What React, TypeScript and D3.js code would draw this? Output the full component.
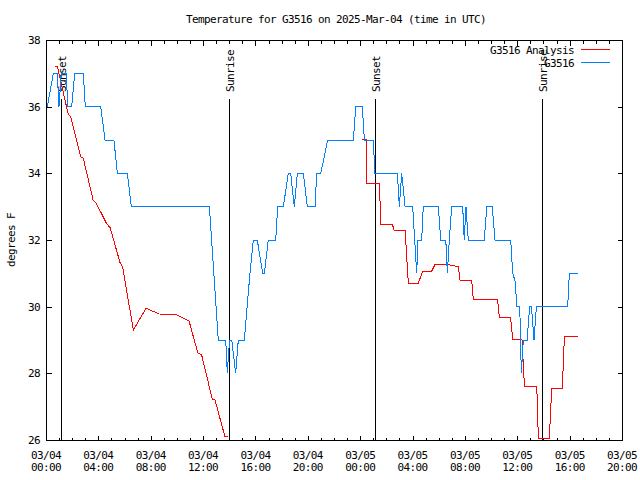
import React, { useEffect, useRef } from "react";
import * as d3 from "d3";

// ---- data (hours since 2025-03-04 00:00 UTC) ----
const obsHours = [
  0.10, 0.56, 0.86, 0.99, 1.17, 1.53, 1.68, 1.96, 2.19, 2.85,
  3.00, 4.18, 4.51, 5.19, 5.45, 6.21, 6.52, 12.48, 13.16, 13.73,
  13.85, 13.96, 14.06, 14.19, 14.49, 14.69, 15.15, 15.58, 15.84, 16.14,
  16.55, 16.68, 16.98, 17.55, 17.70, 18.13, 18.51, 18.69, 18.97, 19.20,
  19.66, 19.96, 20.55, 20.68, 20.99, 21.52, 23.48, 23.66, 24.16, 24.32,
  25.00, 25.13, 26.84, 26.99, 27.17, 27.43, 28.01, 28.32, 28.40, 28.70,
  28.82, 29.97, 30.15, 30.54, 30.66, 30.81, 30.99, 31.83, 31.95, 32.08,
  32.26, 33.48, 33.67, 34.09, 34.30, 35.50, 35.65, 35.85, 35.96, 36.19,
  36.31, 36.46, 36.75, 36.95, 37.08, 37.28, 37.46, 39.85, 39.98, 40.62,
];
const obsTemps = [
  36, 37, 37, 36, 37, 37, 36, 36, 37, 37,
  36, 36, 35, 35, 34, 34, 33, 33, 29, 29,
  28, 28.7, 29, 29, 28, 29, 29, 31, 32, 32,
  31, 31, 32, 32, 33, 33, 34, 34, 33, 34,
  34, 33, 33, 34, 34, 35, 35, 36, 36, 35,
  35, 34, 34, 33, 34, 33, 33, 31, 32, 32,
  33, 33, 32, 32, 31, 32, 33, 33, 32, 33,
  32, 32, 33, 33, 32, 32, 31, 30.75, 30, 30,
  28, 29, 29, 30, 30, 29, 30, 30, 31, 31,
];

const anaHours = [
  0.71, 0.86, 1.70, 1.89, 2.65, 2.85, 3.61, 3.82, 4.64, 4.89,
  5.65, 5.86, 6.67, 7.64, 8.66, 9.98, 10.49, 10.92, 11.59, 11.89,
  12.70, 12.91, 13.67, 13.88, 19.0,
  24.16, 24.45, 24.52, 25.46, 25.59, 26.46, 26.59, 27.43, 27.68, 28.44,
  28.78, 29.47, 29.72, 30.61, 31.50, 31.63, 32.52, 32.64, 34.49, 34.63,
  35.49, 35.65, 36.36, 36.55, 37.49, 37.61, 38.45, 38.63, 39.44, 39.60,
  40.62,
];
const anaTemps = [
  37.22, 37.22, 35.77, 35.70, 34.50, 34.45, 33.18, 33.12, 32.48, 32.38,
  31.33, 31.18, 29.30, 29.95, 29.78, 29.75, 29.65, 29.58, 28.62, 28.55,
  27.23, 27.20, 26.10, 26.09, NaN,
  35.02, 35.02, 33.70, 33.70, 32.47, 32.47, 32.30, 32.30, 30.70, 30.70,
  31.07, 31.07, 31.27, 31.27, 31.20, 30.78, 30.78, 30.22, 30.22, 29.68,
  29.68, 29.02, 29.02, 27.61, 27.61, 26.05, 26.05, 27.55, 27.55, 29.10,
  29.10,
];

const sunLabels = ["Sunset", "Sunrise", "Sunset", "Sunrise"];
const sunHours = [1.15, 13.99, 25.17, 37.92];

const xTickHours = [0, 4, 8, 12, 16, 20, 24, 28, 32, 36, 40, 44];
const xTickDates = ["03/04", "03/04", "03/04", "03/04", "03/04", "03/04", "03/05", "03/05", "03/05", "03/05", "03/05", "03/05"];
const xTickTimes = ["00:00", "04:00", "08:00", "12:00", "16:00", "20:00", "00:00", "04:00", "08:00", "12:00", "16:00", "20:00"];
const yTicks = [26, 28, 30, 32, 34, 36, 38];

const seriesNames = ["G3516 Analysis", "G3516"];
const seriesColors = ["#ff0000", "#0080ff"];

const titleText = "Temperature for G3516 on 2025-Mar-04 (time in UTC)";
const yLabel = "degrees F";

const W = 640;
const H = 480;
const L = 46, R = 622, T = 40, B = 440;
const FONT = "'DejaVu Sans Mono', 'Liberation Mono', monospace";

export default function App() {
  const ref = useRef<SVGSVGElement | null>(null);

  useEffect(() => {
    const svg = d3.select(ref.current);
    svg.selectAll("*").remove();

    const x = d3.scaleLinear().domain([0, 44]).range([L, R]);
    const y = d3.scaleLinear().domain([26, 38]).range([B, T]);

    svg.append("rect").attr("width", W).attr("height", H).attr("fill", "#fff");

    const defs = svg.append("defs");
    defs.append("clipPath").attr("id", "plotclip")
      .append("rect").attr("x", L).attr("y", T).attr("width", R - L + 1).attr("height", B - T + 1);

    const g = svg.append("g").attr("font-family", FONT).attr("font-size", 11)
      .attr("letter-spacing", -0.62).attr("fill", "#000");

    // title
    g.append("text").attr("x", 336).attr("y", 23).attr("text-anchor", "middle").text(titleText);

    // y label
    g.append("text").attr("transform", "translate(15,240) rotate(-90)").attr("text-anchor", "middle").text(yLabel);

    // axes frame
    g.append("rect").attr("x", L + 0.5).attr("y", T + 0.5).attr("width", R - L).attr("height", B - T)
      .attr("fill", "none").attr("stroke", "#000").attr("stroke-width", 1).attr("shape-rendering", "crispEdges");

    // x ticks (minor every hour, major every 4)
    const hrs = d3.range(0, 45, 1);
    hrs.forEach((h) => {
      const len = h % 4 === 0 ? 5 : 3;
      const xp = Math.round(x(h)) + 0.5;
      g.append("line").attr("x1", xp).attr("x2", xp).attr("y1", B + 0.5).attr("y2", B + 0.5 - len)
        .attr("stroke", "#000").attr("shape-rendering", "crispEdges");
      g.append("line").attr("x1", xp).attr("x2", xp).attr("y1", T + 0.5).attr("y2", T + 0.5 + len)
        .attr("stroke", "#000").attr("shape-rendering", "crispEdges");
    });
    xTickHours.forEach((h, i) => {
      g.append("text").attr("x", x(h)).attr("y", 458.5).attr("text-anchor", "middle").text(xTickDates[i]);
      g.append("text").attr("x", x(h)).attr("y", 471).attr("text-anchor", "middle").text(xTickTimes[i]);
    });

    // y ticks
    yTicks.forEach((v) => {
      const yp = Math.round(y(v)) + 0.5;
      g.append("line").attr("x1", L + 0.5).attr("x2", L + 5.5).attr("y1", yp).attr("y2", yp)
        .attr("stroke", "#000").attr("shape-rendering", "crispEdges");
      g.append("line").attr("x1", R + 0.5).attr("x2", R - 4.5).attr("y1", yp).attr("y2", yp)
        .attr("stroke", "#000").attr("shape-rendering", "crispEdges");
      g.append("text").attr("x", 40).attr("y", y(v) + 4).attr("text-anchor", "end").text(String(v));
    });

    // sunrise / sunset lines
    sunHours.forEach((h, i) => {
      const xp = Math.floor(x(h)) + 0.5;
      g.append("line").attr("x1", xp).attr("x2", xp).attr("y1", 99).attr("y2", B)
        .attr("stroke", "#000").attr("shape-rendering", "crispEdges");
      g.append("text").attr("transform", `translate(${xp + 4},92) rotate(-90)`).attr("text-anchor", "start").text(sunLabels[i]);
    });

    // data lines
    const plot = svg.append("g").attr("clip-path", "url(#plotclip)");
    const mk = (hs: number[], vs: number[]) => hs.map((h, i) => ({ h, v: vs[i] }));
    const line = d3.line<{ h: number; v: number }>()
      .defined((d) => !isNaN(d.v))
      .x((d) => x(d.h))
      .y((d) => y(d.v));

    plot.append("path").datum(mk(anaHours, anaTemps)).attr("d", line).attr("fill", "none")
      .attr("stroke", seriesColors[0]).attr("stroke-width", 1).attr("shape-rendering", "crispEdges");
    plot.append("path").datum(mk(obsHours, obsTemps)).attr("d", line).attr("fill", "none")
      .attr("stroke", seriesColors[1]).attr("stroke-width", 1).attr("shape-rendering", "crispEdges");

    // legend
    seriesNames.forEach((name, i) => {
      const ly = 49.5 + i * 13;
      g.append("text").attr("x", 574).attr("y", ly + 4).attr("text-anchor", "end").text(name);
      g.append("line").attr("x1", 581).attr("x2", 610).attr("y1", ly).attr("y2", ly)
        .attr("stroke", seriesColors[i]).attr("shape-rendering", "crispEdges");
    });
  }, []);

  return (
    <svg ref={ref} width={W} height={H} style={{ position: "absolute", left: 0, top: 0 }} />
  );
}
